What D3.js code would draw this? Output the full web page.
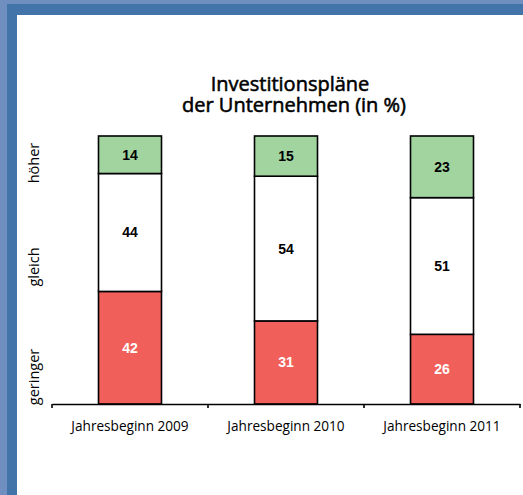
<!DOCTYPE html>
<html>
<head>
<meta charset="utf-8">
<script src="https://cdn.jsdelivr.net/npm/d3@7"></script>
<style>
  body { margin: 0; background: #fff; }
  svg { display: block; }
</style>
</head>
<body>
<div id="chart"></div>
<script>
// data
var categories = ['Jahresbeginn 2009', 'Jahresbeginn 2010', 'Jahresbeginn 2011'];
var geringer = [42, 31, 26];
var gleich = [44, 54, 51];
var hoeher = [14, 15, 23];
var seriesKeys = ['geringer', 'gleich', 'hoeher'];
var seriesLabels = ['geringer', 'gleich', 'höher'];
var titleLines = ['Investitionspläne', 'der Unternehmen (in %)'];

var W = 523, H = 495;
var colors = { geringer: '#f05f5a', gleich: '#ffffff', hoeher: '#a2d4a0' };
var labelColors = { geringer: '#ffffff', gleich: '#000000', hoeher: '#000000' };

var svg = d3.select('#chart').append('svg')
    .attr('width', W).attr('height', H);

// frame
svg.append('rect').attr('x', 0).attr('y', 0).attr('width', W).attr('height', H).attr('fill', '#6f8fc0');
svg.append('rect').attr('x', 7).attr('y', 4).attr('width', W - 7).attr('height', H - 4).attr('fill', '#4273a9');
svg.append('rect').attr('x', 17).attr('y', 15).attr('width', W - 17).attr('height', H - 15).attr('fill', '#ffffff');

var rows = categories.map(function(c, i) {
    return { cat: c, geringer: geringer[i], gleich: gleich[i], hoeher: hoeher[i] };
});

var x = d3.scaleBand().domain(categories).range([52, 520]).paddingInner(0).paddingOuter(0);
var y = d3.scaleLinear().domain([0, 100]).range([404, 136]);
var barW = 63;

var stacked = d3.stack().keys(seriesKeys)(rows);

var layers = svg.selectAll('.layer').data(stacked).enter().append('g').attr('class', 'layer');

layers.selectAll('rect').data(function(d) { return d.map(function(p) { p.key = d.key; return p; }); })
  .enter().append('rect')
    .attr('x', function(d) { return x(d.data.cat) + x.bandwidth() / 2 - barW / 2; })
    .attr('y', function(d) { return y(d[1]); })
    .attr('width', barW)
    .attr('height', function(d) { return y(d[0]) - y(d[1]); })
    .attr('fill', function(d) { return colors[d.key]; })
    .attr('stroke', '#000').attr('stroke-width', 1.6);

layers.selectAll('text').data(function(d) { return d; })
  .enter().append('text')
    .attr('x', function(d) { return x(d.data.cat) + x.bandwidth() / 2; })
    .attr('y', function(d) { return (y(d[0]) + y(d[1])) / 2 + 5; })
    .attr('text-anchor', 'middle')
    .attr('font-family', 'Liberation Sans, Arial, sans-serif')
    .attr('font-weight', 'bold')
    .attr('font-size', 14)
    .attr('fill', function(d) { return labelColors[d.key]; })
    .text(function(d) { return d[1] - d[0]; });

// x axis
var xAxis = svg.append('g').attr('transform', 'translate(0,404)')
    .call(d3.axisBottom(x).tickSize(0).tickPadding(17));
xAxis.select('.domain').attr('stroke', '#000').attr('stroke-width', 1.6);
xAxis.selectAll('text')
    .attr('font-family', 'Open Sans, sans-serif')
    .attr('font-size', 13.6)
    .attr('fill', '#000');

// tick marks at band edges
var edges = categories.map(function(c) { return x(c); }).concat([x.range()[1]]);
svg.selectAll('.edge').data(edges).enter().append('line')
    .attr('x1', function(d) { return d; }).attr('x2', function(d) { return d; })
    .attr('y1', 404).attr('y2', 408)
    .attr('stroke', '#000').attr('stroke-width', 1.6);

// y category labels (rotated)
var yLabelPos = [377, 267, 163];
svg.selectAll('.ylab').data(seriesLabels).enter().append('text')
    .attr('transform', function(d, i) { return 'translate(39,' + yLabelPos[i] + ') rotate(-90)'; })
    .attr('text-anchor', 'middle')
    .attr('font-family', 'Open Sans, sans-serif')
    .attr('font-size', 14.5)
    .attr('fill', '#000')
    .text(function(d) { return d; });

// title (one text, two lines), thin stroke for a medium weight look
var titleX = [290, 294];
svg.append('text')
    .attr('text-anchor', 'middle')
    .attr('font-family', 'Open Sans, sans-serif')
    .attr('font-size', 20)
    .attr('fill', '#000')
    .attr('stroke', '#000')
    .attr('stroke-width', 0.55)
  .selectAll('tspan').data(titleLines).enter().append('tspan')
    .attr('x', function(d, i) { return titleX[i]; })
    .attr('y', function(d, i) { return 91 + i * 21; })
    .text(function(d) { return d; });
</script>
</body>
</html>
